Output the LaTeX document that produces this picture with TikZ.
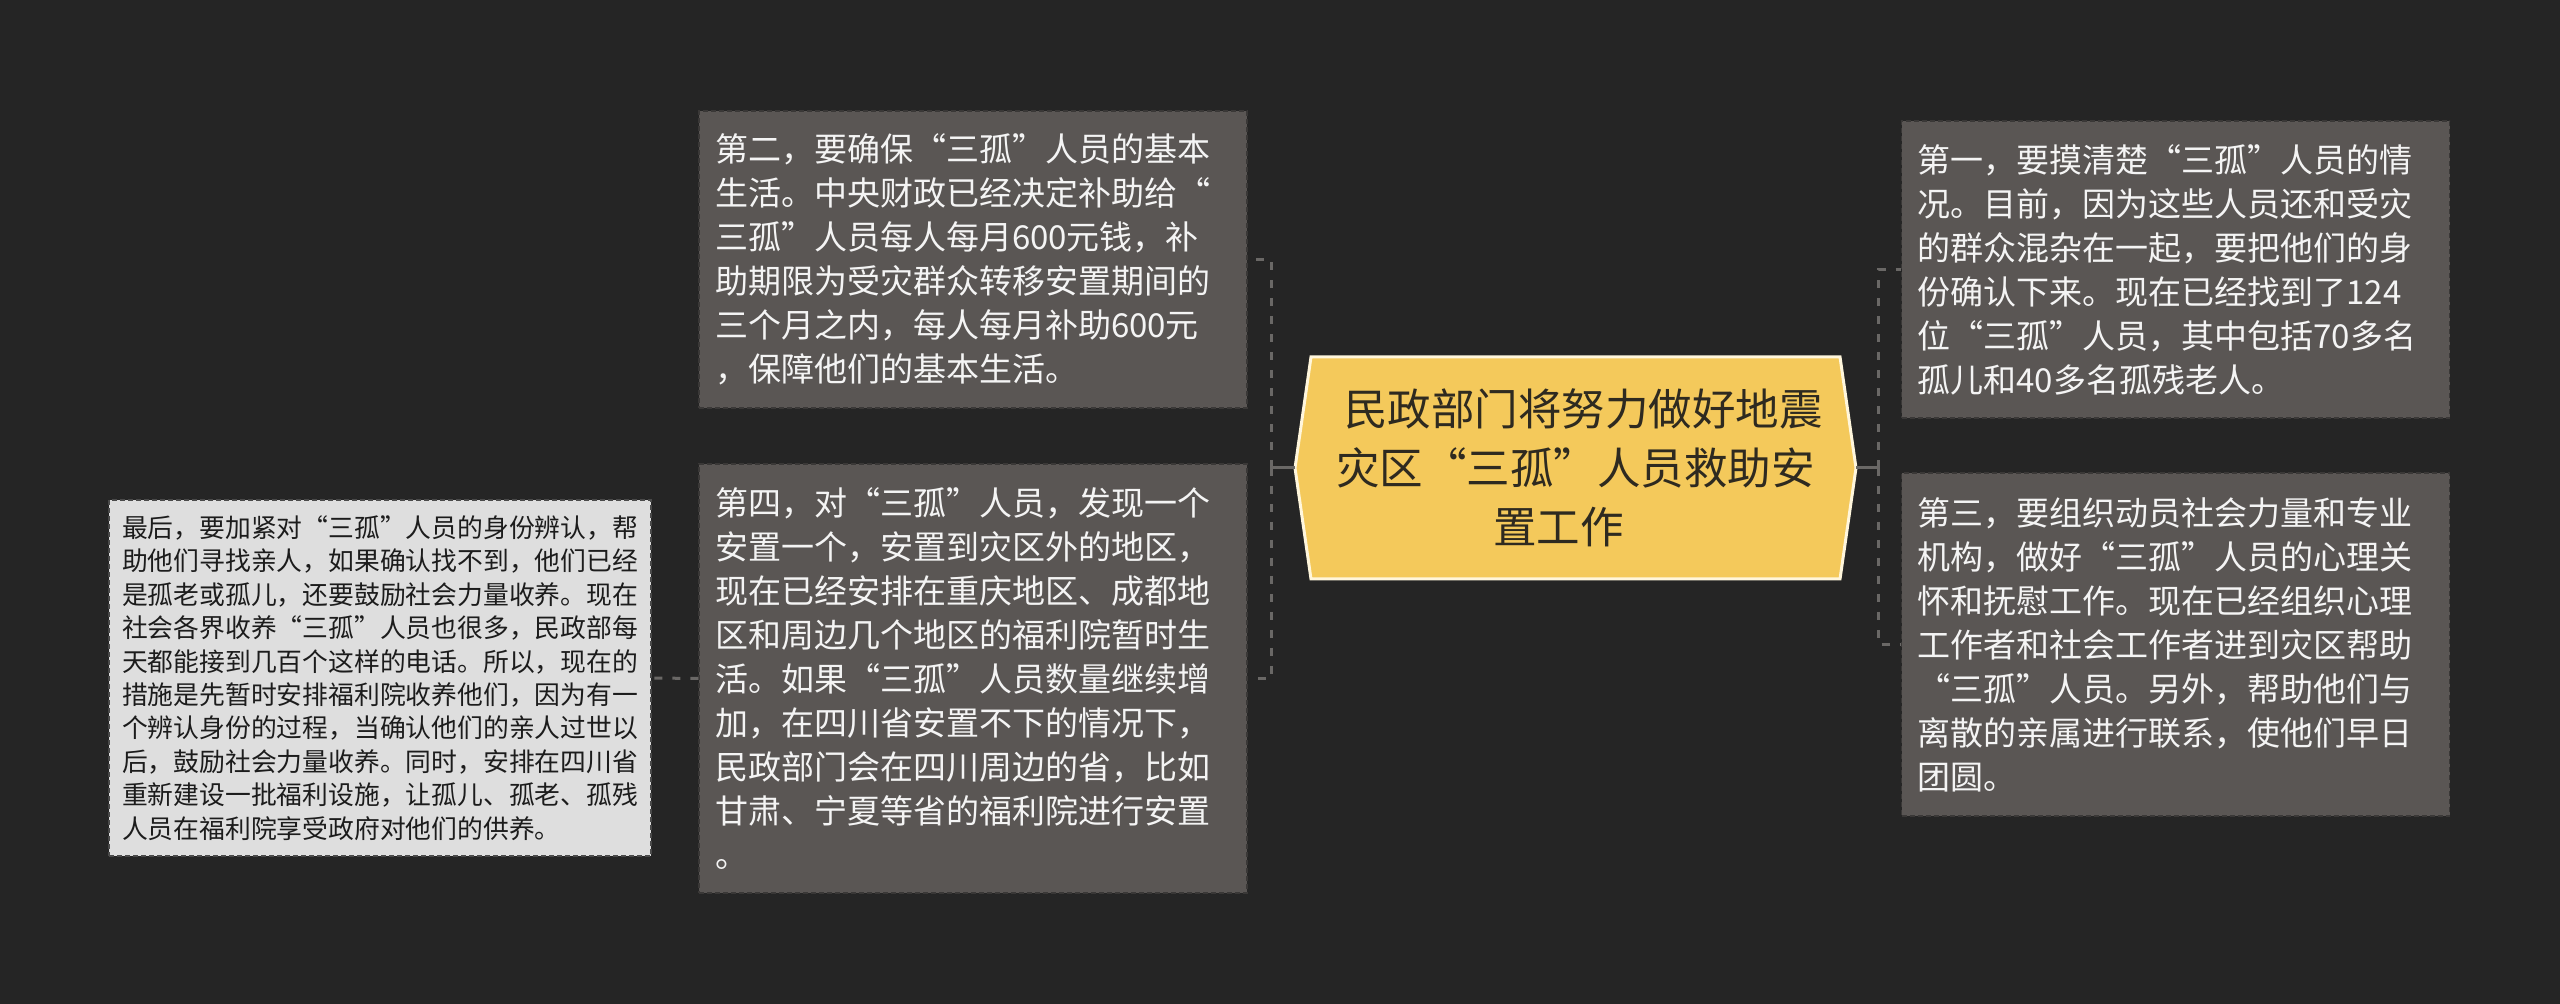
\documentclass[tikz,border=0pt]{standalone}
\usepackage{fontspec}
\setmainfont{Noto Sans CJK SC}
\definecolor{bgc}{HTML}{252525}
\definecolor{boxfill}{HTML}{5A5654}
\definecolor{boxline}{HTML}{3A3837}
\definecolor{lightfill}{HTML}{DEDEDE}
\definecolor{lightline}{HTML}{4A4A4A}
\definecolor{hexfill}{HTML}{F4C95B}
\definecolor{hexline}{HTML}{FFF6DC}
\definecolor{hextext}{HTML}{2E2A20}
\definecolor{connc}{HTML}{6A6866}
\definecolor{lighttext}{HTML}{F4F4F4}
\definecolor{darktext}{HTML}{1C1C1C}
\begin{document}
\begin{tikzpicture}[x=0.5pt,y=-0.5pt,
  darkbox/.style={draw=boxline, fill=boxfill, dash pattern=on 2.5pt off 1.5pt,
    line width=0.6pt, text=lighttext, font=\fontsize{16.5pt}{22pt}\selectfont,
    align=left, text width=258pt, inner xsep=8pt, inner ysep=0pt, anchor=center},
  lightbox/.style={draw=lightline, fill=lightfill, dash pattern=on 2.5pt off 1.5pt,
    line width=0.6pt, text=darktext, font=\fontsize{12.9pt}{16.7pt}\selectfont,
    align=left, text width=258pt, inner xsep=6.5pt, inner ysep=0pt, anchor=center},
  centertext/.style={text=hextext, font=\fontsize{21.75pt}{29.5pt}\selectfont,
    align=center, inner sep=0pt},
  hexshape/.style={fill=hexfill, draw=hexline, line width=1.5pt, line join=miter},
  conn/.style={draw=connc, line width=1.5pt},
  dconn/.style={conn, dash pattern=on 4pt off 5pt}]

\fill[bgc] (0,0) rectangle (2560,1004);
\useasboundingbox (0,0) rectangle (2560,1004);

% central topic
\draw[hexshape] (1295,468) -- (1311,357) -- (1840,357) -- (1856,468)
  -- (1840,579) -- (1311,579) -- cycle;
\node[centertext] (c) at (1575.5,468)
  {\hspace*{8pt}民政部门将努力做好地震\\灾区“三孤”人员救助安\\置工作\hspace*{17pt}};
\coordinate (cW) at (1295,468);
\coordinate (cE) at (1856,468);
\coordinate (jL) at (1271,468);
\coordinate (jR) at (1878,468);

% left branch boxes
\node[darkbox, minimum height=148.5pt] (b2) at (973,259.5)
  {第二，要确保“三孤”人员的基本\\生活。中央财政已经决定补助给“\\三孤”人员每人每月600元钱，补\\助期限为受灾群众转移安置期间的\\三个月之内，每人每月补助600元\\，保障他们的基本生活。};
\node[darkbox, minimum height=214.5pt] (b4) at (973,678.5)
  {第四，对“三孤”人员，发现一个\\安置一个，安置到灾区外的地区，\\现在已经安排在重庆地区、成都地\\区和周边几个地区的福利院暂时生\\活。如果“三孤”人员数量继续增\\加，在四川省安置不下的情况下，\\民政部门会在四川周边的省，比如\\甘肃、宁夏等省的福利院进行安置\\。};
\node[lightbox, minimum height=178pt] (b5) at (380,678)
  {最后，要加紧对“三孤”人员的身份辨认，帮\\助他们寻找亲人，如果确认找不到，他们已经\\是孤老或孤儿，还要鼓励社会力量收养。现在\\社会各界收养“三孤”人员也很多，民政部每\\天都能接到几百个这样的电话。所以，现在的\\措施是先暂时安排福利院收养他们，因为有一\\个辨认身份的过程，当确认他们的亲人过世以\\后，鼓励社会力量收养。同时，安排在四川省\\重新建设一批福利设施，让孤儿、孤老、孤残\\人员在福利院享受政府对他们的供养。};

% right branch boxes
\node[darkbox, minimum height=148.5pt] (b1) at (2175.5,269.5)
  {第一，要摸清楚“三孤”人员的情\\况。目前，因为这些人员还和受灾\\的群众混杂在一起，要把他们的身\\份确认下来。现在已经找到了124\\位“三孤”人员，其中包括70多名\\孤儿和40多名孤残老人。};
\node[darkbox, minimum height=171.5pt] (b3) at (2175.5,644.5)
  {第三，要组织动员社会力量和专业\\机构，做好“三孤”人员的心理关\\怀和抚慰工作。现在已经组织心理\\工作者和社会工作者进到灾区帮助\\“三孤”人员。另外，帮助他们与\\离散的亲属进行联系，使他们早日\\团圆。};

% connectors
\draw[conn] (cW) -- (jL);
\draw[dconn] (jL) |- (b2.east);
\draw[dconn] (jL) |- (b4.east);
\draw[conn] (cE) -- (jR);
\draw[dconn] (jR) |- (b1.west);
\draw[dconn] (jR) |- (b3.west);
\draw[dconn] (b4.west) -- (b5.east);
\end{tikzpicture}
\end{document}
